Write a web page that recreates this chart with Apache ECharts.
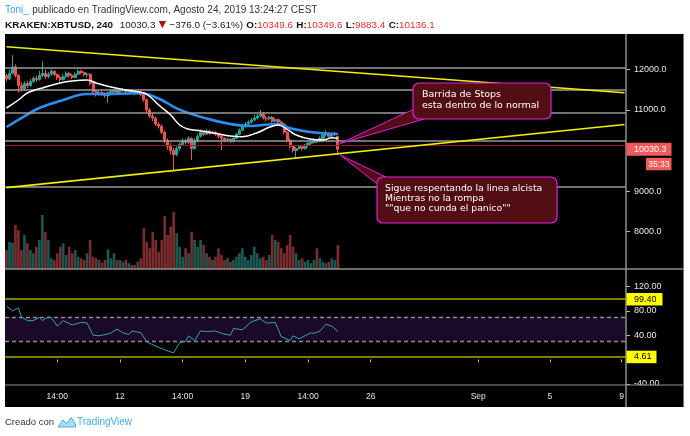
<!DOCTYPE html>
<html><head><meta charset="utf-8">
<script src="https://cdn.jsdelivr.net/npm/echarts@6/dist/echarts.min.js"></script>
<style>html,body{margin:0;padding:0;background:#fff}#c{width:690px;height:436px}</style>
</head><body><div id="c"></div>
<script>
// ---------- DATA ----------
const tickIdx  = [17, 38, 59, 80, 101, 122, 158, 182, 206];
const tickText = ['14:00', '12', '14:00', '19', '14:00', '26', 'Sep', '5', '9'];
const priceTicks = [12000, 11000, 9000, 8000];
const rsiTicks = [120, 80, 40, -40];

const opens = [11850,11760,11900,12060,11850,11600,11520,11650,11600,11700,11780,11750,
11850,11900,11820,11880,11950,11870,11800,11750,11820,11900,11850,11800,
11880,11950,11920,11870,11880,11650,11450,11380,11420,11400,11350,11420,
11450,11480,11430,11470,11500,11450,11480,11420,11400,11450,11380,11250,
11000,10850,10800,10650,10600,10450,10250,10100,10000,9900,10050,10150,
10250,10200,10300,10050,10250,10350,10450,10400,10480,10420,10450,10400,
10350,10300,10250,10280,10230,10300,10400,10500,10600,10650,10700,10750,
10800,10850,10900,10800,10780,10820,10720,10760,10700,10650,10450,10250,
10100,10000,10050,10100,10050,10120,10180,10200,10250,10220,10300,10380,
10420,10350,10400,10349.6];
const closes = [11760,11900,12060,11850,11600,11520,11650,11600,11700,11780,11750,11850,
11900,11820,11880,11950,11870,11800,11750,11820,11900,11850,11800,11880,
11950,11920,11870,11880,11650,11450,11380,11420,11400,11350,11420,11450,
11480,11430,11470,11500,11450,11480,11420,11400,11450,11380,11250,11000,
10850,10800,10650,10600,10450,10250,10100,10000,9900,10050,10150,10250,
10200,10300,10050,10250,10350,10450,10400,10480,10420,10450,10400,10350,
10300,10250,10280,10230,10300,10400,10500,10600,10650,10700,10750,10800,
10850,10900,10800,10780,10820,10720,10760,10700,10650,10450,10250,10100,
10000,10050,10100,10050,10120,10180,10200,10250,10220,10300,10380,10420,
10350,10400,10406,10030.3];
const lows = [11700,11730,11880,11800,11420,11450,11480,11540,11570,11660,11690,11720,
11800,11760,11780,11840,11830,11740,11680,11720,11790,11800,11760,11780,
11850,11880,11820,11790,11600,11400,11330,11350,11340,11300,11170,11380,
11410,11400,11410,11440,11420,11430,11400,11360,11380,11340,11200,10950,
10800,10720,10600,10540,10400,10180,10020,9900,9520,9860,10000,10120,
10150,10160,9770,10020,10200,10320,10350,10380,10380,10400,10360,10300,
10010,10200,10220,10190,10200,10280,10380,10470,10560,10620,10660,10720,
10760,10810,10760,10720,10740,10680,10690,10660,10600,10400,10200,10050,
9950,9790,10020,10000,10020,10090,10140,10170,10180,10200,10270,10350,
10320,10320,10360,9883.4];
const highs = [11900,11980,12350,12120,11880,11680,11700,11720,11760,11830,11850,11960,
12190,11990,11930,12000,11980,11900,11850,11880,11950,11940,11880,11920,
12000,11990,11950,11920,11900,11680,11500,11470,11460,11430,11450,11500,
11520,11510,11500,11540,11520,11510,11500,11440,11480,11470,11410,11280,
11050,10920,10830,10700,10640,10480,10300,10180,10060,10100,10200,10300,
10290,10350,10320,10300,10400,10520,10480,10530,10500,10490,10470,10430,
10380,10330,10320,10300,10340,10430,10540,10660,10700,10740,10800,10880,
10920,11000,10940,10840,10860,10850,10800,10790,10740,10680,10480,10300,
10140,10080,10140,10130,10160,10220,10240,10300,10280,10350,10450,10500,
10460,10450,10460,10349.6];
const volumes = [760,1090,1050,1760,1560,760,1360,1030,760,630,890,1160,
2160,1490,1160,430,360,630,890,1030,560,890,630,760,
490,430,360,630,1160,490,430,360,250,360,790,430,
630,360,360,290,360,230,160,160,290,430,1630,1090,
830,1490,1160,690,1160,2120,1360,1690,2290,1430,890,490,
830,630,1490,1160,890,1160,960,630,490,360,490,830,
560,360,430,290,360,490,630,830,490,360,560,890,
630,430,490,360,560,1360,1160,1090,830,630,960,1360,
890,630,360,430,290,360,230,360,830,430,290,230,
290,430,360,960];
const emaFastIdx = [0,4,7,12,18,22,27,30,35,40,46,48,51,55,58,61,65,70,75,79,84,88,91,94,97,102,106,109,111];
const emaFastVal = [11047,11244,11416,11539,11663,11712,11736,11663,11564,11490,11416,11330,11121,10874,10628,10522,10488,10424,10357,10340,10438,10571,10628,10522,10382,10276,10259,10315,10300];
const emaSlowIdx = [0,5,11,18,27,36,45,48,52,57,62,68,75,81,86,91,95,101,106,111];
const emaSlowVal = [10579,10800,11047,11219,11392,11392,11416,11367,11244,11039,10899,10768,10653,10603,10628,10653,10547,10463,10424,10406];
const rsiIdx = [0,2,4,5,7,9,11,12,14,15,17,19,22,25,27,29,31,34,35,37,39,41,42,45,47,50,52,54,56,58,60,61,63,65,67,70,72,75,76,79,82,85,87,90,92,95,96,98,102,103,105,107,109,111];
const rsiVal = [88,80,85,70,64,64,69,64,70,69,55,64,57,61,60,40,39,42,44,50,44,41,47,44,29,22,18,14,11,28,30,39,31,47,46,47,43,40,51,49,62,67,60,61,38,31,39,34,44,43,47,58,55,46];
const trendUpper = [[0, 12556], [207, 11423]];
const trendLower = [[0, 9085], [207, 10642]];
const hLevels = [12050, 11500, 10940, 10230, 9115];
const prevLine = 10136.1;
const lastPrice = 10030.3;
const countdown = '35:33';
const rsiLevels = [99.40, 4.61];
const rsiBand = [30, 70];

// ---------- BUILD ----------
const NCAT = 208;
const cats = [];
for (let i = 0; i < NCAT; i++) {
  const d = new Date(Date.UTC(2019, 7, 5, 16) + i * 4 * 3600e3);
  cats.push(d.toISOString().slice(0, 13));
}
const UP = '#26a69a', DN = '#ef5350';
const ohlc = opens.map((o, i) => [o, closes[i], lows[i], highs[i]]);
const vol = volumes.map((v, i) => ({value: v, itemStyle: {color: closes[i] >= opens[i] ? '#1c5651' : '#7a2b2b'}}));
const pair = (a, b) => a.map((x, i) => [x, b[i]]);
const isTick = (idx) => tickIdx.indexOf(idx) >= 0;
const axFont = {color: '#e6e6e6', fontSize: 9, fontFamily: 'Liberation Sans'};

const G = {left: 5, width: 621};
const hid = {show: false};
function xAx(gi, show) {
  return {type: 'category', gridIndex: gi, data: cats, boundaryGap: true,
    axisLine: hid, splitLine: hid,
    axisTick: show ? {show: true, alignWithLabel: true, interval: (i) => isTick(i), length: 3, lineStyle: {color: '#bbb'}} : hid,
    axisLabel: show ? {show: true, interval: (i) => isTick(i), margin: 7, fontSize: 8.5,
      formatter: (v, i) => tickText[tickIdx.indexOf(i)] || '', color: '#e6e6e6', fontFamily: 'Liberation Sans'} : hid};
}

const chart = echarts.init(document.getElementById('c'), null, {renderer: 'canvas'});
const option = {
  animation: false,
  backgroundColor: '#ffffff',
  grid: [
    {left: G.left, width: G.width, top: 34, height: 235},
    {left: G.left, width: G.width, top: 205, height: 64},
    {left: G.left, width: G.width, top: 269, height: 116}
  ],
  xAxis: [xAx(0, false), xAx(1, false), xAx(2, true)],
  yAxis: [
    {type: 'value', gridIndex: 0, position: 'right', min: 7081.3, max: 12869.5,
     splitLine: hid, axisLine: hid,
     axisTick: {show: true, length: 4, customValues: priceTicks, lineStyle: {color: '#bbb'}},
     axisLabel: Object.assign({customValues: priceTicks, margin: 8, formatter: (v) => v.toFixed(1)}, axFont)},
    {type: 'value', gridIndex: 1, min: 0, max: 2560, show: false},
    {type: 'value', gridIndex: 2, position: 'right', min: -41.98, max: 148.97,
     splitLine: hid, axisLine: hid,
     axisTick: {show: true, length: 4, customValues: rsiTicks, lineStyle: {color: '#bbb'}},
     axisLabel: Object.assign({customValues: rsiTicks, margin: 8, formatter: (v) => v.toFixed(2)}, axFont)}
  ],
  series: [
    {type: 'line', xAxisIndex: 0, yAxisIndex: 0, data: [], z: 1,
     markLine: {silent: true, symbol: 'none', label: hid,
       data: hLevels.map(v => ({yAxis: v, lineStyle: {color: '#9a9a9a', width: 1.5, type: 'solid'}}))
         .concat([{yAxis: prevLine, lineStyle: {color: '#8e1c1c', width: 1, type: 'solid'}}])}},
    {type: 'bar', xAxisIndex: 1, yAxisIndex: 1, data: vol, barCategoryGap: '10%', z: 1},
    {type: 'candlestick', xAxisIndex: 0, yAxisIndex: 0, data: ohlc, barWidth: 2.6, z: 3,
     itemStyle: {color: UP, color0: DN, borderColor: UP, borderColor0: DN, borderWidth: 1}},
    {type: 'line', xAxisIndex: 0, yAxisIndex: 0, data: pair(emaSlowIdx, emaSlowVal), smooth: 0.4,
     showSymbol: false, lineStyle: {color: '#2a8ff0', width: 2.6}, z: 4},
    {type: 'line', xAxisIndex: 0, yAxisIndex: 0, data: pair(emaFastIdx, emaFastVal), smooth: 0.4,
     showSymbol: false, lineStyle: {color: '#ffffff', width: 1.5}, z: 5},
    {type: 'line', xAxisIndex: 0, yAxisIndex: 0, data: trendUpper, showSymbol: false,
     lineStyle: {color: '#f0f000', width: 1.6}, z: 6},
    {type: 'line', xAxisIndex: 0, yAxisIndex: 0, data: trendLower, showSymbol: false,
     lineStyle: {color: '#f0f000', width: 1.6}, z: 6},
    {type: 'line', xAxisIndex: 2, yAxisIndex: 2, data: pair(rsiIdx, rsiVal), showSymbol: false,
     lineStyle: {color: '#3b9fb4', width: 1}, z: 5,
     markArea: {silent: true, itemStyle: {color: '#1a0a27'}, data: [[{yAxis: rsiBand[0]}, {yAxis: rsiBand[1]}]]},
     markLine: {silent: true, symbol: 'none', label: hid,
       data: rsiBand.map(v => ({yAxis: v, lineStyle: {color: '#8a8a8a', width: 1.4, type: [4, 3]}}))
         .concat(rsiLevels.map(v => ({yAxis: v, lineStyle: {color: '#a8a800', width: 1.5, type: 'solid'}})))}}
  ]
};
chart.setOption(option);

// ---------- DECORATION ----------
const yPx = (ai, v) => chart.convertToPixel({yAxisIndex: ai}, v);
const yLast = yPx(0, lastPrice);
const grey = '#8f8f8f';
const hf = 'Liberation Sans';
const g = [];
g.push({type: 'rect', z: -5, shape: {x: 5, y: 34, width: 678, height: 373}, style: {fill: '#000'}});
// header
g.push({type: 'text', z: 50, x: 5, y: 4.5, style: {
  text: '{a|Toni_} {b|publicado en TradingView.com, Agosto 24, 2019 13:24:27 CEST}',
  rich: {a: {fill: '#2fa6df', fontSize: 10, fontFamily: hf},
         b: {fill: '#333', fontSize: 10, fontFamily: hf}}}});
g.push({type: 'text', z: 50, x: 5, y: 19, style: {
  text: '{k|KRAKEN:XBTUSD, 240}  {n|10030.3} {r|\u25BC} {n|\u2212376.0 (\u22123.61%)} {k|O:}{v|10349.6} {k|H:}{v|10349.6} {k|L:}{v|9883.4} {k|C:}{v|10136.1}',
  rich: {k: {fill: '#111', fontWeight: 'bold', fontSize: 9.9, fontFamily: hf},
         n: {fill: '#222', fontSize: 9.9, fontFamily: hf},
         r: {fill: '#a11', fontSize: 9.5, fontFamily: 'DejaVu Sans'},
         v: {fill: '#e0312f', fontSize: 9.9, fontFamily: hf}}}});
// footer
g.push({type: 'text', z: 50, x: 5, y: 417, style: {text: 'Creado con', fill: '#333', fontSize: 9.5, fontFamily: hf}});
g.push({type: 'polygon', z: 50, shape: {points: [[58,427],[63,420],[67,423.5],[71,417.5],[75.5,424],[75.5,427]]}, style: {fill: '#a9dcf3', stroke: '#3aaee6', lineWidth: 1}});
g.push({type: 'text', z: 50, x: 77, y: 417, style: {text: 'TradingView', fill: '#3aaee6', fontSize: 10, fontFamily: hf}});
// pane frame lines
g.push({type: 'line', z: 60, shape: {x1: 626, y1: 34, x2: 626, y2: 407}, style: {stroke: grey, lineWidth: 1.5}});
g.push({type: 'rect', z: 55, shape: {x: 627, y: 385.5, width: 56, height: 21.5}, style: {fill: '#000'}});
g.push({type: 'line', z: 60, shape: {x1: 5, y1: 269, x2: 683, y2: 269}, style: {stroke: grey, lineWidth: 1.5}});
g.push({type: 'line', z: 60, shape: {x1: 5, y1: 385, x2: 683, y2: 385}, style: {stroke: grey, lineWidth: 1.2}});
g.push({type: 'line', z: 60, shape: {x1: 683.5, y1: 34, x2: 683.5, y2: 407}, style: {stroke: '#777', lineWidth: 1}});
// last price label + countdown
g.push({type: 'rect', z: 70, shape: {x: 626.5, y: yLast - 6.5, width: 45, height: 13}, style: {fill: '#f05a58'}});
g.push({type: 'text', z: 71, x: 634, y: yLast, style: {text: lastPrice.toFixed(1), fill: '#fff', fontSize: 9, fontFamily: hf, verticalAlign: 'middle'}});
g.push({type: 'rect', z: 70, shape: {x: 646, y: yLast + 8.5, width: 25.5, height: 12.5}, style: {fill: '#f05a58'}});
g.push({type: 'text', z: 71, x: 658.8, y: yLast + 15, style: {text: countdown, fill: '#fff', fontSize: 8.5, fontFamily: hf, align: 'center', verticalAlign: 'middle'}});
// RSI level labels
rsiLevels.forEach((v) => {
  const y = yPx(2, v), txt = v.toFixed(2);
  g.push({type: 'rect', z: 70, shape: {x: 626.5, y: y - 6, width: txt.length > 4 ? 36 : 30, height: 12.5}, style: {fill: '#ffff00'}});
  g.push({type: 'text', z: 71, x: 634, y: y, style: {text: txt, fill: '#000', fontSize: 9, fontFamily: hf, verticalAlign: 'middle'}});
});
// callouts
const boxFill = '#520e12', boxStroke = '#e01fe0';
g.push({type: 'polygon', z: 80, shape: {points: [[340, 143.5], [414, 109], [424, 119]]}, style: {fill: boxFill, stroke: boxStroke, lineWidth: 1}});
g.push({type: 'rect', z: 81, shape: {x: 413, y: 83, width: 138, height: 36, r: 6}, style: {fill: boxFill, stroke: boxStroke, lineWidth: 1.2}});
g.push({type: 'text', z: 82, x: 422, y: 89.5, style: {text: 'Barrida de Stops\nesta dentro de lo normal', fill: '#fff', fontSize: 9.5, lineHeight: 10.5, fontFamily: 'DejaVu Sans'}});
g.push({type: 'polygon', z: 80, shape: {points: [[340, 155], [388, 178], [377.5, 184]]}, style: {fill: boxFill, stroke: boxStroke, lineWidth: 1}});
g.push({type: 'rect', z: 81, shape: {x: 377, y: 177, width: 180, height: 46, r: 6}, style: {fill: boxFill, stroke: boxStroke, lineWidth: 1.2}});
g.push({type: 'text', z: 82, x: 385, y: 184, style: {text: 'Sigue respentando la linea alcista\nMientras no la rompa\n""que no cunda el panico""', fill: '#fff', fontSize: 9.3, lineHeight: 9.7, fontFamily: 'DejaVu Sans'}});
chart.setOption({graphic: {elements: g}});
</script></body></html>
